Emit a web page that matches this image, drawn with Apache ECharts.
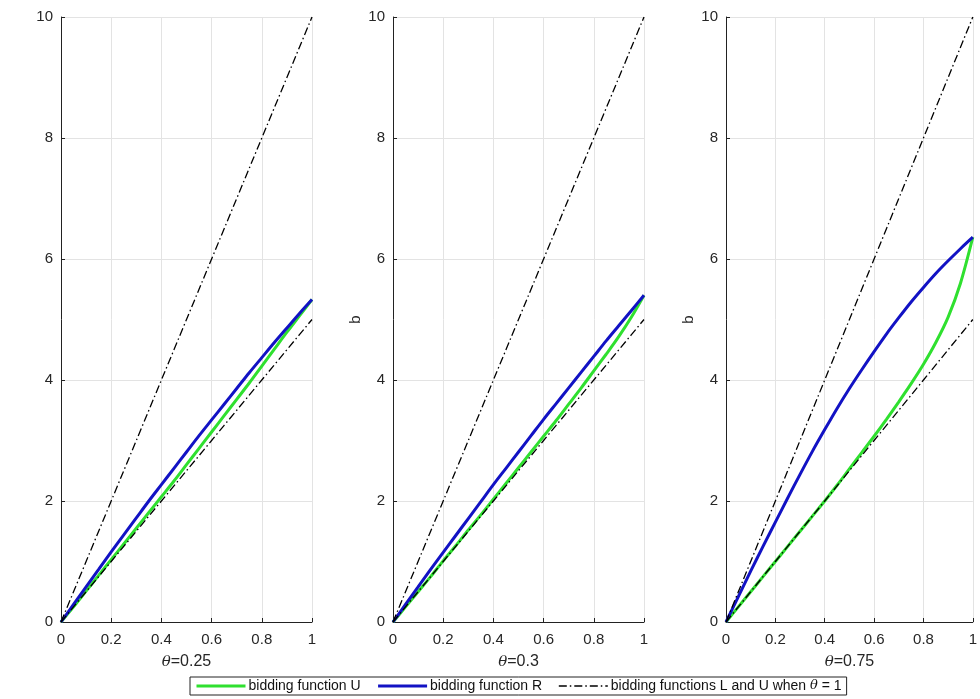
<!DOCTYPE html>
<html>
<head>
<meta charset="utf-8">
<script src="https://cdn.jsdelivr.net/npm/echarts@6/dist/echarts.min.js"></script>
<style>
  html, body { margin: 0; padding: 0; background: #fff; }
  #main { width: 980px; height: 699px; }
</style>
</head>
<body>
<div id="main"></div>
<script>
// x grid (valuation)
var xVals = [0, 0.05, 0.1, 0.15, 0.2, 0.25, 0.3, 0.35, 0.4, 0.45, 0.5,
             0.55, 0.6, 0.65, 0.7, 0.75, 0.8, 0.85, 0.9, 0.95, 1];

// reference lines (theta = 1)
var lineHigh = [0, 0.5, 1, 1.5, 2, 2.5, 3, 3.5, 4, 4.5, 5, 5.5, 6, 6.5, 7, 7.5, 8, 8.5, 9, 9.5, 10];
var lineLow  = [0, 0.25, 0.5, 0.75, 1, 1.25, 1.5, 1.75, 2, 2.25, 2.5, 2.75, 3, 3.25, 3.5, 3.75, 4, 4.25, 4.5, 4.75, 5];

// theta = 0.25
var u025 = [0, 0.25, 0.51, 0.77, 1.03, 1.29, 1.55, 1.81, 2.07, 2.33, 2.6, 2.87, 3.14, 3.41, 3.68, 3.95, 4.23, 4.51, 4.79, 5.06, 5.33];
var r025 = [0, 0.29, 0.58, 0.87, 1.16, 1.44, 1.72, 2.0, 2.27, 2.54, 2.81, 3.08, 3.34, 3.6, 3.86, 4.12, 4.37, 4.62, 4.86, 5.1, 5.33];

// theta = 0.3
var u03 = [0, 0.25, 0.5, 0.75, 1.01, 1.26, 1.52, 1.77, 2.03, 2.29, 2.55, 2.81, 3.07, 3.33, 3.6, 3.87, 4.15, 4.43, 4.72, 5.04, 5.4];
var r03 = [0, 0.29, 0.58, 0.87, 1.15, 1.43, 1.71, 1.99, 2.27, 2.54, 2.81, 3.08, 3.35, 3.61, 3.87, 4.13, 4.39, 4.65, 4.9, 5.15, 5.4];

// theta = 0.75
var u075 = [0, 0.25, 0.5, 0.75, 1.0, 1.25, 1.5, 1.75, 2.0, 2.26, 2.53, 2.8, 3.07, 3.35, 3.64, 3.94, 4.26, 4.62, 5.04, 5.6, 6.36];
var r075 = [0, 0.42, 0.84, 1.25, 1.65, 2.05, 2.44, 2.82, 3.18, 3.53, 3.86, 4.17, 4.47, 4.76, 5.03, 5.29, 5.53, 5.76, 5.97, 6.17, 6.36];

var thetas = ['0.25', '0.3', '0.75'];
var panelU = [u025, u03, u075];
var panelR = [r025, r03, r075];
var yNames = ['', 'b', 'b'];

var nameU = 'bidding function U';
var nameR = 'bidding function R';
var nameL = 'bidding functions L and U when θ = 1';

var textColor = '#262626';
var font = 'Liberation Sans, Arial, sans-serif';
var dashDot = [8, 3, 1.5, 3];

function pairs(ys) {
    return xVals.map(function (x, i) { return [x, ys[i]]; });
}

var chart = echarts.init(document.getElementById('main'));

var grids = [], xAxes = [], yAxes = [], series = [];
var lefts = [61, 393, 726];

for (var i = 0; i < 3; i++) {
    grids.push({ left: lefts[i], top: 17, width: 251, height: 605 });

    xAxes.push({
        type: 'value', gridIndex: i, min: 0, max: 1, interval: 0.2,
        name: '{t|θ}=' + thetas[i],
        nameLocation: 'middle', nameGap: 32,
        nameTextStyle: {
            color: textColor, fontSize: 16, fontFamily: font,
            rich: { t: { fontStyle: 'italic', fontFamily: 'DejaVu Serif, serif', fontSize: 15, color: textColor } }
        },
        axisLine: { show: true, lineStyle: { color: '#222', width: 1 } },
        axisTick: { show: true, inside: true, length: 4, lineStyle: { color: '#222' } },
        axisLabel: { color: textColor, fontSize: 15, fontFamily: font, margin: 10 },
        splitLine: { show: true, lineStyle: { color: '#e3e3e3', width: 1 } }
    });

    yAxes.push({
        type: 'value', gridIndex: i, min: 0, max: 10, interval: 2,
        name: yNames[i],
        nameLocation: 'middle', nameGap: 30,
        nameTextStyle: { color: textColor, fontSize: 15, fontFamily: font },
        axisLine: { show: true, lineStyle: { color: '#222', width: 1 } },
        axisTick: { show: true, inside: true, length: 4, lineStyle: { color: '#222' } },
        axisLabel: { color: textColor, fontSize: 15, fontFamily: font, margin: 8 },
        splitLine: { show: true, lineStyle: { color: '#e3e3e3', width: 1 } }
    });

    series.push({
        name: nameU, type: 'line', xAxisIndex: i, yAxisIndex: i,
        data: pairs(panelU[i]), smooth: 0.3, symbol: 'none',
        lineStyle: { color: '#2fe02f', width: 3 }, itemStyle: { color: '#2fe02f' }
    });
    series.push({
        name: nameR, type: 'line', xAxisIndex: i, yAxisIndex: i,
        data: pairs(panelR[i]), smooth: 0.3, symbol: 'none',
        lineStyle: { color: '#1212c4', width: 3 }, itemStyle: { color: '#1212c4' }
    });
    series.push({
        name: nameL, type: 'line', xAxisIndex: i, yAxisIndex: i,
        data: pairs(lineLow), symbol: 'none',
        lineStyle: { color: '#000', width: 1.3, type: dashDot }, itemStyle: { color: '#000' }
    });
    series.push({
        name: nameL, type: 'line', xAxisIndex: i, yAxisIndex: i,
        data: pairs(lineHigh), symbol: 'none',
        lineStyle: { color: '#000', width: 1.3, type: dashDot }, itemStyle: { color: '#000' }
    });
}

var option = {
    backgroundColor: '#fff',
    animation: false,
    grid: grids,
    xAxis: xAxes,
    yAxis: yAxes,
    legend: {
        data: [
            { name: nameU, lineStyle: { width: 3 } },
            { name: nameR, lineStyle: { width: 3 } },
            { name: nameL, lineStyle: { width: 1.3 } }
        ],
        left: 190, top: 677,
        itemWidth: 49, itemHeight: 12, itemGap: 16,
        padding: [2, 5, 2, 5],
        borderColor: '#222', borderWidth: 1,
        backgroundColor: '#fff',
        itemStyle: { opacity: 0 },
        formatter: function (name) {
            if (name === nameL) {
                return '{n|bidding functions L and U when }{t|θ}{n| = 1}';
            }
            return '{n|' + name + '}';
        },
        textStyle: {
            color: '#111', fontSize: 14, fontFamily: font, padding: [0, 0, 0, -2],
            rich: {
                n: { fontSize: 14, fontFamily: font, color: '#111' },
                t: { fontSize: 13, fontFamily: 'DejaVu Serif, serif', fontStyle: 'italic', color: '#111' }
            }
        }
    },
    series: series
};

chart.setOption(option);
</script>
</body>
</html>
